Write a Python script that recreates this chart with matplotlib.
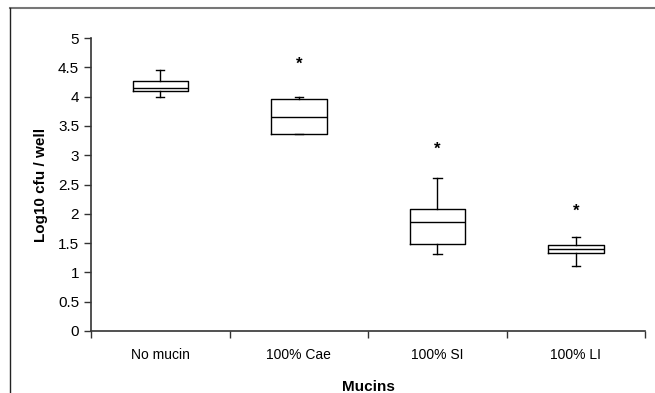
import matplotlib
matplotlib.use("Agg")
import matplotlib.pyplot as plt
import matplotlib.transforms as mtransforms
from matplotlib.lines import Line2D

plt.rcParams['font.family'] = ['Liberation Sans', 'DejaVu Sans']

# box plot values
groups = ["No mucin", "100% Cae", "100% SI", "100% LI"]
whis_lo = [3.99, 3.37, 1.31, 1.11]
q1 = [4.10, 3.37, 1.49, 1.33]
med = [4.15, 3.66, 1.855, 1.40]
q3 = [4.26, 3.96, 2.08, 1.47]
whis_hi = [4.45, 4.00, 2.61, 1.61]
star_y = [None, 4.64, 3.20, 2.13]

fig = plt.figure(figsize=(6.55, 3.93), dpi=100)
ax = fig.add_axes([0.139, 0.158, 0.846, 0.745])

stats = []
for i in range(len(groups)):
    stats.append({"label": groups[i], "whislo": whis_lo[i], "q1": q1[i],
                  "med": med[i], "q3": q3[i], "whishi": whis_hi[i], "fliers": []})

lp = dict(color="black", linewidth=1.0)
ax.bxp(stats, positions=[1, 2, 3, 4], widths=0.4, capwidths=0.06,
       showfliers=False, boxprops=lp, medianprops=lp, whiskerprops=lp, capprops=lp)

# asterisk glyph sits high in its box, nudge it down a little
shift = mtransforms.offset_copy(ax.transData, fig=fig, x=0, y=-4, units="points")
for i, s in enumerate(star_y):
    if s is not None:
        ax.text(i + 1, s, "*", ha="center", va="center", fontsize=12,
                fontweight="bold", transform=shift)

ax.set_xlim(0.5, 4.5)
ax.set_ylim(0, 5)
ax.set_yticks([0, 0.5, 1, 1.5, 2, 2.5, 3, 3.5, 4, 4.5, 5])
ax.set_yticklabels(["0", "0.5", "1", "1.5", "2", "2.5", "3", "3.5", "4", "4.5", "5"])
ax.set_xticks([0.5, 1.5, 2.5, 3.5, 4.5])
ax.set_xticklabels([])
ax.set_xticks([1, 2, 3, 4], minor=True)
ax.set_xticklabels(groups, minor=True)
ax.tick_params(axis="x", which="major", direction="out", length=5, width=1, color="#333333")
ax.tick_params(axis="x", which="minor", length=0, pad=12, labelsize=10)
ax.tick_params(axis="y", direction="out", length=5, width=1, labelsize=11, color="#333333")

for side in ["top", "right"]:
    ax.spines[side].set_visible(False)
for side in ["left", "bottom"]:
    ax.spines[side].set_color("#333333")
    ax.spines[side].set_linewidth(1.2)

ax.set_ylabel("Log10 cfu / well", fontsize=11, fontweight="bold", labelpad=7)
ax.set_xlabel("Mucins", fontsize=11, fontweight="bold", labelpad=13)

# outer frame of the original figure
fig.add_artist(Line2D([10 / 655, 1], [1 - 8 / 393, 1 - 8 / 393], color="#777777", linewidth=1.5))
fig.add_artist(Line2D([10 / 655, 10 / 655], [0, 1 - 8 / 393], color="#222222", linewidth=1.0))

fig.savefig("out.png", dpi=100)
